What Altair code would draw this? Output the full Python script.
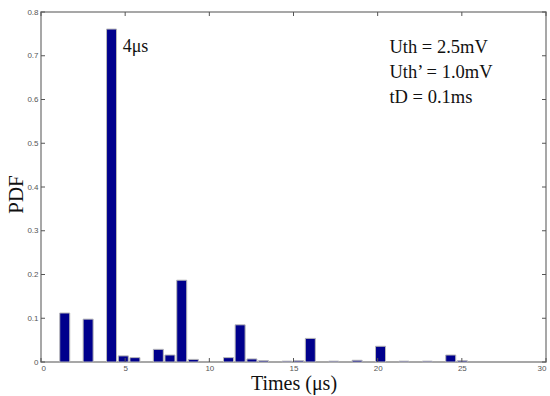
import altair as alt
import pandas as pd

times = [1.41, 2.80, 4.19, 4.89, 5.58, 6.97, 7.66, 8.36, 9.05, 11.14, 11.83, 12.53,
         13.22, 14.61, 15.31, 16.00, 17.39, 18.78, 20.17, 21.56, 22.95, 24.34, 25.03]
pdf = [0.112, 0.098, 0.761, 0.014, 0.010, 0.029, 0.016, 0.187, 0.006, 0.010, 0.085, 0.007,
       0.003, 0.002, 0.003, 0.054, 0.002, 0.004, 0.036, 0.002, 0.002, 0.016, 0.003]

x_ticks = [0, 5, 10, 15, 20, 25, 30]
y_ticks = [0, 0.1, 0.2, 0.3, 0.4, 0.5, 0.6, 0.7, 0.8]

peak_label = ["4μs"]
peak_x = [4.85]
peak_y = [0.721]

info_lines = ["Uth = 2.5mV", "Uth’ = 1.0mV", "tD = 0.1ms"]
info_x = [20.7, 20.7, 20.7]
info_y = [0.72, 0.663, 0.606]

W, H = 505, 350

bars_df = pd.DataFrame({"t": times, "p": pdf})
xt_df = pd.DataFrame({"v": x_ticks})
yt_df = pd.DataFrame({"v": y_ticks})
peak_df = pd.DataFrame({"x": peak_x, "y": peak_y, "label": peak_label})
info_df = pd.DataFrame({"x": info_x, "y": info_y, "label": info_lines})

xscale = alt.Scale(domain=[0, 30], nice=False, padding=0)
yscale = alt.Scale(domain=[0, 0.8], nice=False, padding=0)

axis_common = dict(ticks=False, domain=False, grid=False, labelFont="Liberation Sans",
                   labelFontSize=8, labelColor="#555555", titleFont="Liberation Serif",
                   titleColor="#111111", titleFontWeight="normal")

bars = alt.Chart(bars_df).mark_bar(size=10, color="#00008c", stroke="#b8b8b8",
                                   strokeWidth=1).encode(
    x=alt.X("t:Q", scale=xscale,
            axis=alt.Axis(values=x_ticks, title="Times (μs)", titleFontSize=20,
                          labelPadding=2, titlePadding=1, format="d", **axis_common)),
    y=alt.Y("p:Q", scale=yscale,
            axis=alt.Axis(values=y_ticks, title="PDF", titleFontSize=21, labelPadding=3,
                          titlePadding=0, titleY=182,
                          labelExpr="datum.value == 0 ? '0' : format(datum.value, '.1f')",
                          **axis_common)),
)

tick_color = "#555555"
xt_bottom = alt.Chart(xt_df).mark_rule(color=tick_color, strokeWidth=1).encode(
    x=alt.X("v:Q", scale=xscale), y=alt.value(H), y2=alt.value(H - 4))
xt_top = alt.Chart(xt_df).mark_rule(color=tick_color, strokeWidth=1).encode(
    x=alt.X("v:Q", scale=xscale), y=alt.value(0), y2=alt.value(4))
yt_left = alt.Chart(yt_df).mark_rule(color=tick_color, strokeWidth=1).encode(
    y=alt.Y("v:Q", scale=yscale), x=alt.value(0), x2=alt.value(4))
yt_right = alt.Chart(yt_df).mark_rule(color=tick_color, strokeWidth=1).encode(
    y=alt.Y("v:Q", scale=yscale), x=alt.value(W), x2=alt.value(W - 4))

peak = alt.Chart(peak_df).mark_text(font="Liberation Serif", fontSize=18, align="left",
                                    baseline="middle", color="#111111").encode(
    x=alt.X("x:Q", scale=xscale), y=alt.Y("y:Q", scale=yscale), text="label:N")
info = alt.Chart(info_df).mark_text(font="Liberation Serif", fontSize=18.5, align="left",
                                    baseline="middle", color="#111111").encode(
    x=alt.X("x:Q", scale=xscale), y=alt.Y("y:Q", scale=yscale), text="label:N")

chart = alt.layer(bars, xt_bottom, xt_top, yt_left, yt_right, peak, info).properties(
    width=W, height=H,
    autosize=alt.AutoSizeParams(type="none"),
    padding={"left": 41, "top": 12, "right": 4, "bottom": 34},
    background="white",
).configure_view(stroke="#8a8a8a", strokeWidth=1.5)

chart.save("out.html", embed_options={"renderer": "svg", "actions": False})
